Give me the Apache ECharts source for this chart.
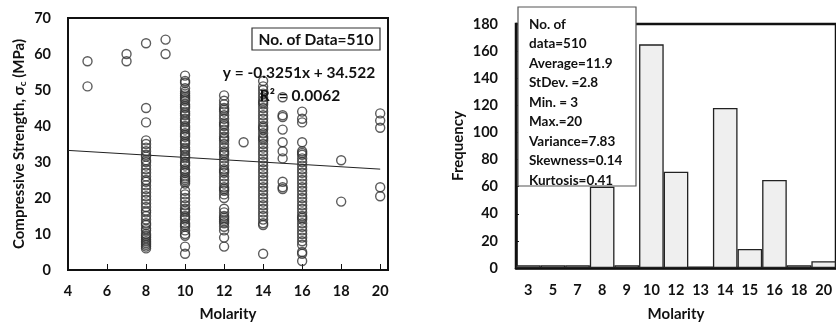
<!DOCTYPE html>
<html><head><meta charset="utf-8">
<script src="https://cdn.jsdelivr.net/npm/echarts@6/dist/echarts.min.js"></script>
<style>html,body{margin:0;padding:0;background:#fff}#c{width:836px;height:327px}</style>
</head><body><div id="c"></div>
<script>
// ---- scatter data (Molarity -> compressive strength, MPa)
const s5 = [58, 51];
const s7 = [60, 58];
const s8 = [63,45,41,36,35,34,33,32,31.5,30.5,30,29,28,27,26,25,24.5,23.5,22.5,21.5,20.5,19.5,18.5,17.5,16.5,16,15,14,13,12.5,11.5,11,10,9.5,9,8.5,8,7.5,7,6.5,6];
const s9 = [64, 60];
const s10 = [54,52.5,52,50.5,49.5,49,48.5,48,47.5,47,46,45.5,45,44,43.5,43,42,41.5,41,40,39.5,39,38,37.5,37,36,35.5,35,34,33.5,33,32,31.5,31,30,29.5,29,28,27.5,27,26,25.5,25,24.5,24,22,21,20,19,18,17,16.5,16,15,14.5,14,13,12.5,12,11,10,9.5,6.5,4.5];
const s12 = [48.5,47,46,45,44.5,44,43,42,41,40.5,40,39,38,37,36.5,36,35,34,33,32.5,32,31,30,29,28,27.5,27,26,25,24,23,22.5,22,21,20,17,16,15,14.5,14,13.5,13,12,11,9,6.5];
const s13 = [35.5];
const s14 = [52.5,51,50,49,48,47,46.5,46,45,44,43,42,41,40,39.5,39,38,37,36.5,36,35,34,33,32,31,30,29,28,27,26,25,24,23,22,21,20,19,18,17,16,15,14,13,12.5,4.5];
const s15 = [48,43,42.5,39,35.5,33,31,24.5,23,22.5];
const s16 = [44,42,41,35.5,33,32.5,32,31,30,29,28,27,26,25,24,23,22,21,20,19,18,17,16,15,14.5,14,13,12,11,10,9,8,7,5,4.5,2.5];
const s18 = [30.5, 19];
const s20 = [43.5, 41.5, 39.5, 23, 20.5];
const molarityGroups = [[5,s5],[7,s7],[8,s8],[9,s9],[10,s10],[12,s12],[13,s13],[14,s14],[15,s15],[16,s16],[18,s18],[20,s20]];
// regression
const slope = -0.3251, intercept = 34.522, trendX = [4, 20];
// ---- histogram
const histCats = ['3','5','7','8','9','10','12','13','14','15','16','18','20'];
const histFreq = [2, 2, 2, 60, 2, 165, 71, 1, 118, 14, 65, 2, 5];
const statLines = ['No. of','data=510','Average=11.9','StDev. =2.8','Min. = 3','Max.=20','Variance=7.83','Skewness=0.14','Kurtosis=0.41'];

const scatterData = [];
molarityGroups.forEach(([m, arr]) => arr.forEach(v => scatterData.push([m, v])));
const trendData = trendX.map(x => [x, slope * x + intercept]);

const F = 'Lato, "Liberation Sans", sans-serif';
const chart = echarts.init(document.getElementById('c'));
const lbl = {color:'#111', fontFamily:F, fontWeight:'bold', fontSize:14.5};
const nameStyle = {color:'#111', fontFamily:F, fontSize:15, fontWeight:'bold'};
chart.setOption({
  animation:false,
  backgroundColor:'#fff',
  grid:[
    {left:68, top:18, width:320, height:255, show:true, borderColor:'#111', borderWidth:2, backgroundColor:'transparent'},
    {left:516, top:24, right:-3, height:248, show:true, borderColor:'#111', borderWidth:2.5, backgroundColor:'transparent'}
  ],
  xAxis:[
    {gridIndex:0, type:'value', min:4, max:20.4, interval:2,
     axisLine:{lineStyle:{color:'#111', width:2}},
     axisTick:{inside:true, length:6, lineStyle:{color:'#111'}},
     splitLine:{show:false},
     axisLabel:Object.assign({margin:14, formatter:v => (Number.isInteger(v) ? v : '')}, lbl),
     name:'Molarity', nameLocation:'middle', nameGap:37, nameTextStyle:nameStyle},
    {gridIndex:1, type:'category', data:histCats, boundaryGap:true,
     axisLine:{lineStyle:{color:'#111', width:2.5}},
     axisTick:{length:5, lineStyle:{color:'#111', width:1.5}},
     axisLabel:Object.assign({margin:15}, lbl),
     name:'Molarity', nameLocation:'middle', nameGap:39, nameTextStyle:nameStyle}
  ],
  yAxis:[
    {gridIndex:0, type:'value', min:0, max:70, interval:10,
     axisLine:{show:true, lineStyle:{color:'#111', width:2}},
     axisTick:{show:false}, splitLine:{show:false},
     axisLabel:Object.assign({margin:17}, lbl),
     name:'{a|Compressive Strength, σ}{s|c}{a| (MPa)}', nameLocation:'middle', nameGap:40,
     nameTextStyle:Object.assign({}, nameStyle, {
       rich:{a:{fontFamily:F, fontSize:15, fontWeight:'bold', color:'#111'}, s:{fontFamily:F, fontSize:10, fontWeight:'bold', color:'#111', padding:[7,0,0,0]}}})},
    {gridIndex:1, type:'value', min:0, max:180, interval:20,
     axisLine:{show:true, lineStyle:{color:'#111', width:2.5}},
     axisTick:{show:true, inside:true, length:3, lineStyle:{color:'#111'}}, splitLine:{show:false},
     axisLabel:Object.assign({margin:18}, lbl),
     name:'Frequency', nameLocation:'middle', nameGap:50, nameTextStyle:nameStyle}
  ],
  series:[
    {type:'scatter', xAxisIndex:0, yAxisIndex:0, data:scatterData, symbol:'circle', symbolSize:9,
     itemStyle:{color:'rgba(255,255,255,0)', borderColor:'#333', borderWidth:1.4}, z:3},
    {type:'line', xAxisIndex:0, yAxisIndex:0, data:trendData, symbol:'none',
     lineStyle:{color:'#222', width:1}, z:2},
    {type:'bar', xAxisIndex:1, yAxisIndex:1, data:histFreq, barWidth:'100%', barCategoryGap:'0%',
     itemStyle:{color:'#efefef', borderColor:'#222', borderWidth:1.3}, z:2}
  ],
  graphic:[
    {type:'rect', shape:{x:252, y:28, width:128, height:22}, style:{fill:'#fff', stroke:'#333', lineWidth:1.2}, z:10},
    {type:'text', x:316, y:39.5, style:{text:'No. of Data=510', fontFamily:F, fontWeight:'bold', fontSize:15.5, fill:'#111', align:'center', verticalAlign:'middle'}, z:11},
    {type:'text', x:299, y:73, style:{text:'y = -0.3251x + 34.522', fontFamily:F, fontWeight:'bold', fontSize:15.5, fill:'#111', align:'center', verticalAlign:'middle'}, z:11},
    {type:'text', x:300, y:96, style:{text:'R² = 0.0062', fontFamily:F, fontWeight:'bold', fontSize:15.5, fill:'#111', align:'center', verticalAlign:'middle'}, z:11},
    {type:'rect', shape:{x:518, y:7, width:118, height:179}, style:{fill:'#fff', stroke:'#555', lineWidth:1.2}, z:10},
    {type:'text', x:529, y:14.5, style:{text:statLines.join('\n'), fontFamily:F, fontWeight:'bold', fontSize:13.5, lineHeight:19.5, fill:'#111', align:'left', verticalAlign:'top'}, z:11}
  ]
});
</script></body></html>
